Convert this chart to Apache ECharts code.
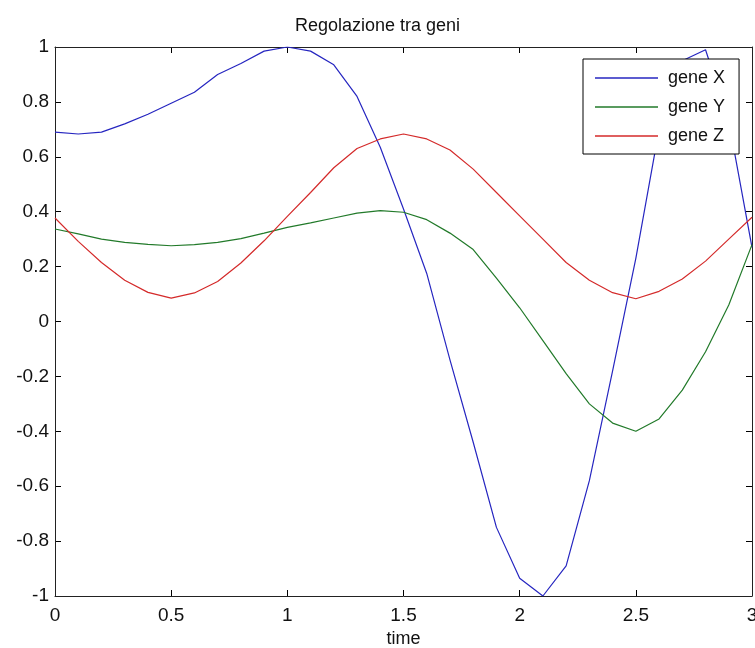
<!DOCTYPE html>
<html>
<head>
<meta charset="utf-8">
<script src="https://cdn.jsdelivr.net/npm/echarts@6/dist/echarts.min.js"></script>
<style>
html,body{margin:0;padding:0;background:#fff;}
#c{width:755px;height:648px;}
</style>
</head>
<body>
<div id="c"></div>
<script>
var time = [0,0.1,0.2,0.3,0.4,0.5,0.6,0.7,0.8,0.9,1.0,1.1,1.2,1.3,1.4,1.5,1.6,1.7,1.8,1.9,2.0,2.1,2.2,2.3,2.4,2.5,2.6,2.7,2.8,2.9,3.0];
var geneX = [0.69,0.683,0.69,0.72,0.755,0.795,0.835,0.90,0.94,0.985,1.0,0.985,0.935,0.82,0.635,0.41,0.175,-0.14,-0.44,-0.75,-0.935,-1.0,-0.89,-0.58,-0.18,0.23,0.70,0.95,0.99,0.73,0.27];
var geneY = [0.337,0.319,0.30,0.288,0.281,0.276,0.28,0.288,0.302,0.322,0.343,0.359,0.377,0.395,0.404,0.398,0.371,0.322,0.262,0.158,0.05,-0.07,-0.19,-0.30,-0.37,-0.40,-0.355,-0.25,-0.11,0.06,0.28];
var geneZ = [0.377,0.292,0.215,0.15,0.106,0.085,0.104,0.146,0.213,0.294,0.383,0.47,0.56,0.63,0.665,0.683,0.665,0.625,0.555,0.47,0.385,0.30,0.215,0.15,0.105,0.083,0.11,0.155,0.22,0.30,0.38];
var seriesNames = ['gene X','gene Y','gene Z'];
var titleText = 'Regolazione tra geni';
var xName = 'time';

function pairs(ys){ return time.map(function(t,i){ return [t, ys[i]]; }); }

var FONT = 'Liberation Sans, Arial, sans-serif';
var axisCol = '#222';
var L = 55, R = 3, T = 47, B = 52;
var W = 755, H = 648, TK = 6;
var chart = echarts.init(document.getElementById('c'), null, {renderer:'canvas'});
var lineSeries = function(name, data, color){
  return {name:name, type:'line', data:pairs(data), showSymbol:false, symbol:'none',
    lineStyle:{color:color, width:1.2}, itemStyle:{color:color}, animation:false, clip:true, xAxisIndex:0, yAxisIndex:0};
};
function boxLine(){ return {show:true, onZero:false, lineStyle:{color:axisCol, width:1}}; }
function noLine(){ return {show:false, onZero:false}; }
function tickLines(){ return {show:true, lineStyle:{color:'#000', width:1, type:'solid'}}; }
function xAx(grid, pos, extra){
  var o = {gridIndex:grid, type:'value', min:0, max:3, interval:0.5, position:pos, splitLine:{show:false},
    axisLine:noLine(), axisTick:{show:false}, axisLabel:{show:false}};
  for (var k in extra) o[k] = extra[k];
  return o;
}
function yAx(grid, pos, extra){
  var o = {gridIndex:grid, type:'value', min:-1, max:1, interval:0.2, position:pos, splitLine:{show:false},
    axisLine:noLine(), axisTick:{show:false}, axisLabel:{show:false}};
  for (var k in extra) o[k] = extra[k];
  return o;
}
function g(o){ o.containLabel = false; o.outerBoundsMode = 'none'; return o; }
chart.setOption({
  backgroundColor:'#fff',
  animation:false,
  title:{text:titleText, left:'center', top:12, textStyle:{fontFamily:FONT, fontSize:18, fontWeight:'normal', color:'#111'}},
  grid:[
    g({left:L, right:R, top:T, bottom:B}),
    // thin strips along the inner edges of the plot box; their split lines act as inward tick marks
    g({left:L, right:R, top:H-B-TK, height:TK}),
    g({left:L, right:R, top:T, height:TK}),
    g({left:L, width:TK, top:T, bottom:B}),
    g({left:W-R-TK, width:TK, top:T, bottom:B})
  ],
  legend:{
    left:583, top:59, orient:'vertical',
    data:seriesNames,
    icon:'rect', itemWidth:63, itemHeight:1.5, itemGap:9,
    padding:[9,14,8,12],
    backgroundColor:'#fff', borderColor:'#000', borderWidth:1,
    textStyle:{fontFamily:FONT, fontSize:18, color:'#111', lineHeight:20, padding:[0,0,0,5]}
  },
  xAxis:[
    xAx(0, 'bottom', {name:xName, nameLocation:'middle', nameGap:32,
      nameTextStyle:{fontFamily:FONT, fontSize:18, color:'#111'},
      axisLine:boxLine(),
      axisLabel:{show:true, fontFamily:FONT, fontSize:19, color:'#111', margin:10}}),
    xAx(0, 'top', {axisLine:boxLine()}),
    xAx(1, 'bottom', {splitLine:tickLines()}),
    xAx(2, 'bottom', {splitLine:tickLines()}),
    xAx(3, 'bottom', {show:false}),
    xAx(4, 'bottom', {show:false})
  ],
  yAxis:[
    yAx(0, 'left', {axisLine:boxLine(),
      axisLabel:{show:true, fontFamily:FONT, fontSize:19, color:'#111', margin:6}}),
    yAx(0, 'right', {axisLine:boxLine()}),
    yAx(1, 'left', {show:false}),
    yAx(2, 'left', {show:false}),
    yAx(3, 'left', {splitLine:tickLines()}),
    yAx(4, 'left', {splitLine:tickLines()})
  ],
  series:[
    lineSeries(seriesNames[0], geneX, '#2626c0'),
    lineSeries(seriesNames[1], geneY, '#227a2a'),
    lineSeries(seriesNames[2], geneZ, '#d42a2a')
  ]
});
</script>
</body>
</html>
